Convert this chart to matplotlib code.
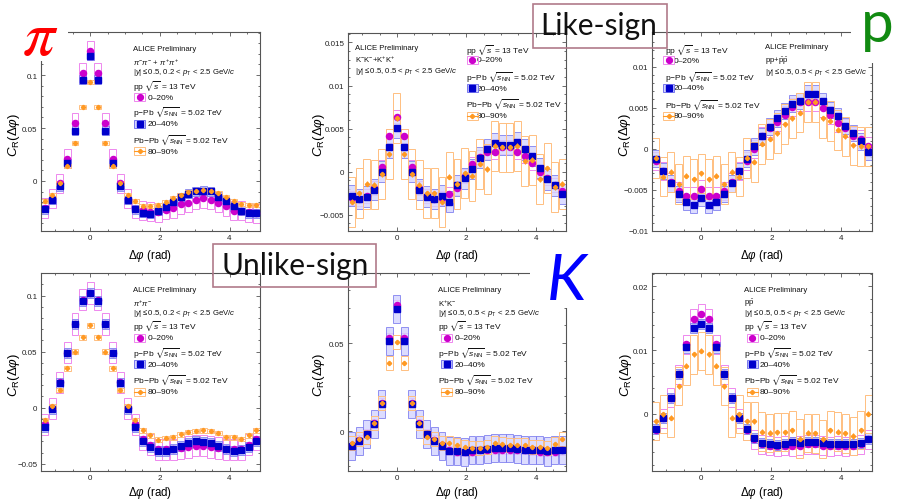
import numpy as np
import matplotlib
matplotlib.use("Agg")
import matplotlib.pyplot as plt
from matplotlib.patches import Rectangle
from matplotlib.ticker import MultipleLocator, FuncFormatter

plt.rcParams['font.family'] = ['Liberation Sans', 'DejaVu Sans']
plt.rcParams['mathtext.fontset'] = 'custom'
plt.rcParams['mathtext.rm'] = 'Liberation Sans'
plt.rcParams['mathtext.it'] = 'Liberation Sans:italic'
plt.rcParams['mathtext.bf'] = 'Liberation Sans:bold'
plt.rcParams['mathtext.fallback'] = 'stixsans'

# ---------------- data ----------------
dphi = [-1.300, -1.083, -0.867, -0.650, -0.433, -0.217, 0.000, 0.217, 0.433, 0.650,
        0.867, 1.083, 1.300, 1.517, 1.733, 1.950, 2.167, 2.383, 2.600, 2.817,
        3.033, 3.250, 3.467, 3.683, 3.900, 4.117, 4.333, 4.550, 4.767]
bin_width = 0.2167

# pi like-sign
pi_ls_pp = [-0.0255, -0.0167, -0.002, 0.021, 0.0547, 0.102, 0.123, 0.102, 0.0547, 0.021, -0.002, -0.0167, -0.026,
            -0.0277, -0.029, -0.0296, -0.027, -0.0255, -0.022, -0.0204, -0.0176, -0.0164, -0.0176, -0.0204, -0.024,
            -0.028, -0.028, -0.0296, -0.0305]
pi_ls_ppb = [-0.0267, -0.018, -0.005, 0.0167, 0.0475, 0.0956, 0.118, 0.0956, 0.0475, 0.0167, -0.005, -0.018, -0.0267,
             -0.030, -0.031, -0.028, -0.025, -0.020, -0.0154, -0.012, -0.0097, -0.0091, -0.0097, -0.0148, -0.019,
             -0.024, -0.028, -0.0305, -0.0305]
pi_ls_pbpb = [-0.019, -0.0129, -0.002, 0.0138, 0.036, 0.0698, 0.0934, 0.0698, 0.036, 0.0138, -0.002, -0.0129, -0.019,
              -0.0236, -0.0236, -0.023, -0.0198, -0.0157, -0.0129, -0.0104, -0.0091, -0.0085, -0.0091, -0.0113, -0.0154,
              -0.0192, -0.0214, -0.023, -0.023]
pi_ls_sys = [0.009, 0.004, 0.002]
pi_ls_stat = 0.0015

# K like-sign
k_ls_pp = [-0.0031, -0.0032, -0.0028, -0.0019, 0.0005, 0.0041, 0.0064, 0.0041, 0.0005, -0.0019, -0.0028, -0.0032, -0.0031,
           -0.0026, -0.0019, -0.0005, 0.0009, 0.0017, 0.0023, 0.0023, 0.0029, 0.0029, 0.0023, 0.0018, 0.0010,
           -0.0001, -0.0007, -0.0016, -0.0022]
k_ls_ppb = [-0.0028, -0.0032, -0.0029, -0.0021, 0.0, 0.0028, 0.0051, 0.0028, 0.0, -0.0021, -0.0029, -0.0032, -0.0028,
            -0.0035, -0.0016, -0.0008, 0.0003, 0.0016, 0.0026, 0.0033, 0.0031, 0.0031, 0.0034, 0.0026, 0.0018,
            0.0004, -0.0009, -0.0016, -0.0026]
k_ls_pbpb = [-0.0035, -0.0025, -0.0014, -0.0015, -0.0003, 0.0020, 0.0062, 0.0020, -0.0003, -0.0015, -0.0025, -0.0025, -0.0035,
             -0.0006, -0.0014, -0.0002, -0.0005, 0.0009, 0.0003, 0.0030, 0.0028, 0.0028, 0.0030, 0.0012, 0.0014,
             -0.0009, 0.0004, -0.0018, -0.0014]
k_ls_sys = [0.0008, 0.0012, 0.0029]
k_ls_stat = 0.0003

# p like-sign
p_ls_pp = [-0.0015, -0.0027, -0.0041, -0.0051, -0.0057, -0.0057, -0.0049, -0.0057, -0.0057, -0.0051, -0.0041, -0.0027, -0.0015,
           0.0000, 0.0015, 0.0025, 0.0033, 0.0041, 0.0051, 0.0057, 0.0057, 0.0057, 0.0050, 0.0041, 0.0031,
           0.0025, 0.0015, 0.0012, 0.0003]
p_ls_ppb = [-0.0012, -0.0027, -0.0042, -0.0055, -0.0065, -0.0068, -0.0060, -0.0068, -0.0065, -0.0055, -0.0042, -0.0027, -0.0012,
            0.0003, 0.0015, 0.0027, 0.0037, 0.0046, 0.0055, 0.0058, 0.0067, 0.0067, 0.0058, 0.0047, 0.0040,
            0.0028, 0.0019, 0.0009, -0.0004]
p_ls_pbpb = [-0.0011, -0.0034, -0.0028, -0.0043, -0.0033, -0.0037, -0.0030, -0.0037, -0.0033, -0.0043, -0.0028, -0.0034, -0.0011,
             -0.0016, 0.0006, 0.0012, 0.0019, 0.0030, 0.0037, 0.0044, 0.0057, 0.0057, 0.0037, 0.0034, 0.0023,
             0.0015, 0.0004, 0.0003, 0.0003]
p_ls_sys = [0.0011, 0.0010, 0.0024]
p_ls_stat = 0.0003

# pi unlike-sign
pi_us_pp = [-0.015, -0.0005, 0.0225, 0.049, 0.0747, 0.0965, 0.1024, 0.0965, 0.0747, 0.049, 0.0225, -0.0005, -0.015,
            -0.028, -0.033, -0.037, -0.037, -0.037, -0.036, -0.035, -0.034, -0.034, -0.035, -0.036, -0.037,
            -0.037, -0.037, -0.033, -0.028]
pi_us_ppb = [-0.0173, -0.001, 0.0223, 0.0488, 0.0747, 0.0955, 0.1024, 0.0955, 0.0747, 0.0488, 0.0223, -0.001, -0.0176,
             -0.0295, -0.0354, -0.0384, -0.0387, -0.0366, -0.0339, -0.0318, -0.0301, -0.0304, -0.0318, -0.0339, -0.0366,
             -0.0384, -0.0381, -0.0354, -0.0295]
pi_us_pbpb = [-0.0113, 0.0012, 0.016, 0.0351, 0.050, 0.0628, 0.0735, 0.0628, 0.050, 0.0351, 0.016, 0.0012, -0.0113,
              -0.0202, -0.0247, -0.0286, -0.0271, -0.0265, -0.0238, -0.0217, -0.0208, -0.0202, -0.0208, -0.0226, -0.0265,
              -0.0265, -0.028, -0.0247, -0.0202]
pi_us_sys = [0.0095, 0.0045, 0.002]
pi_us_stat = 0.0015

# K unlike-sign
k_us_pp = [-0.0081, -0.005, -0.0015, 0.0044, 0.016, 0.053, 0.0718, 0.053, 0.016, 0.0044, -0.0015, -0.005, -0.0081,
           -0.011, -0.0117, -0.0119, -0.0117, -0.0110, -0.0108, -0.0105, -0.0107, -0.0107, -0.0105, -0.0108, -0.0110,
           -0.0117, -0.0119, -0.0117, -0.011]
k_us_ppb = [-0.0085, -0.0055, -0.0019, 0.0042, 0.0155, 0.0513, 0.0695, 0.0513, 0.0155, 0.0042, -0.0019, -0.0055, -0.0085,
            -0.0112, -0.0114, -0.0119, -0.011, -0.0108, -0.0102, -0.0098, -0.0097, -0.0097, -0.0100, -0.0108, -0.0106,
            -0.0106, -0.0116, -0.011, -0.0108]
k_us_pbpb = [-0.0066, -0.0044, -0.0034, 0.0045, 0.016, 0.0386, 0.0506, 0.0386, 0.016, 0.0045, -0.0034, -0.0044, -0.0066,
             -0.0066, -0.0078, -0.0091, -0.0095, -0.0097, -0.0093, -0.0070, -0.0076, -0.0078, -0.0081, -0.0081, -0.0089,
             -0.0091, -0.0095, -0.0074, -0.0045]
k_us_sys = [0.0025, 0.008, 0.004]
k_us_stat = 0.0012

# p unlike-sign
p_us_pp = [-0.0026, -0.0007, 0.0025, 0.0062, 0.0109, 0.0149, 0.0157, 0.0149, 0.0109, 0.0062, 0.0025, -0.0007, -0.0026,
           -0.0040, -0.0048, -0.0050, -0.0051, -0.0050, -0.0051, -0.0050, -0.0048, -0.0048, -0.0050, -0.0051, -0.0050,
           -0.0051, -0.0050, -0.0048, -0.0040]
p_us_ppb = [-0.0024, -0.0007, 0.0025, 0.0062, 0.0104, 0.0135, 0.0141, 0.0135, 0.0104, 0.0062, 0.0025, -0.0007, -0.0024,
            -0.0038, -0.0046, -0.0047, -0.0049, -0.0048, -0.0045, -0.0046, -0.0044, -0.0044, -0.0046, -0.0047, -0.0047,
            -0.0048, -0.0047, -0.0046, -0.0039]
p_us_pbpb = [-0.0012, -0.0001, -0.0006, 0.0043, 0.0075, 0.0093, 0.0099, 0.0093, 0.0075, 0.0043, -0.0006, -0.0001, -0.0012,
             -0.0012, -0.0028, -0.0030, -0.0029, -0.0029, -0.0026, -0.0039, -0.0030, -0.0031, -0.0040, -0.0026, -0.0028,
             -0.0031, -0.0035, -0.0026, 0.0000]
p_us_sys = [0.0015, 0.0008, 0.003]
p_us_stat = 0.0004

leg_pp = r'pp $\sqrt{s}$ = 13 TeV'
leg_ppb = r'p$-$Pb $\sqrt{s_{\rm NN}}$ = 5.02 TeV'
leg_pbpb = r'Pb$-$Pb $\sqrt{s_{\rm NN}}$ = 5.02 TeV'
cent_labels = ['0\u201320%', '20\u201340%', '80\u201390%']
cut_pi = r'$|y| \leq 0.5$, 0.2 < $p_{\rm T}$ < 2.5 GeV/$c$'
cut_kp = r'$|y| \leq 0.5$, 0.5 < $p_{\rm T}$ < 2.5 GeV/$c$'

# ---------------- figure ----------------
W, H = 897, 502
fig = plt.figure(figsize=(W / 100, H / 100), dpi=100)
fig.patch.set_facecolor('white')

C_PP, C_PPB, C_PBPB = '#cc00cc', '#0000cc', '#ff9922'
E_PP, E_PPB, F_PPB, E_PBPB = '#ee88ee', '#7878ee', '#d4d4ff', '#ffbf80'
FRAME = '#555555'


def fmt(v, pos):
    v = round(v, 6)
    if abs(v) < 1e-9:
        return '0'
    return ('%g' % v).replace('-', '\u2212')


layoutA = dict(info=(0.42, [0.915, 0.851, 0.801]), head=(0.42, [0.734, 0.600, 0.462]),
               mark=(0.452, [0.672, 0.538, 0.400]), text=0.487)
layoutB = dict(info=(0.032, [0.929, 0.869, 0.813]), head=(0.541, [0.919, 0.783, 0.646]),
               mark=(0.569, [0.864, 0.722, 0.581]), text=0.592)
layoutC = dict(info=(0.514, [0.925, 0.859, 0.799]), head=(0.059, [0.915, 0.779, 0.638]),
               mark=(0.077, [0.859, 0.719, 0.578]), text=0.100)

panels = [
    dict(rect=(41, 33, 260, 232), ylim=(-0.0472, 0.1406), major=0.05, minor=0.01,
         data=(pi_ls_pp, pi_ls_ppb, pi_ls_pbpb), sys=pi_ls_sys, stat=pi_ls_stat,
         species=r'$\pi^{-}\pi^{-}$ + $\pi^{+}\pi^{+}$', cut=cut_pi, lay=layoutA, ylx=-0.123, xly=-0.121),
    dict(rect=(348, 34, 566, 232), ylim=(-0.0069, 0.0161), major=0.005, minor=0.001,
         data=(k_ls_pp, k_ls_ppb, k_ls_pbpb), sys=k_ls_sys, stat=k_ls_stat,
         species=r'K$^{-}$K$^{-}$+K$^{+}$K$^{+}$', cut=cut_kp, lay=layoutB, ylx=-0.133, xly=-0.121),
    dict(rect=(652, 33, 872, 232), ylim=(-0.0100, 0.0142), major=0.005, minor=0.001,
         data=(p_ls_pp, p_ls_ppb, p_ls_pbpb), sys=p_ls_sys, stat=p_ls_stat,
         species=r'pp+$\bar{\rm p}\bar{\rm p}$', cut=cut_kp, lay=layoutC, ylx=-0.123, xly=-0.121),
    dict(rect=(41, 274, 260, 472), ylim=(-0.0565, 0.1202), major=0.05, minor=0.01,
         data=(pi_us_pp, pi_us_ppb, pi_us_pbpb), sys=pi_us_sys, stat=pi_us_stat,
         species=r'$\pi^{+}\pi^{-}$', cut=cut_pi, lay=layoutA, ylx=-0.123, xly=-0.108),
    dict(rect=(348, 274, 566, 472), ylim=(-0.0227, 0.0898), major=0.05, minor=0.01,
         data=(k_us_pp, k_us_ppb, k_us_pbpb), sys=k_us_sys, stat=k_us_stat,
         species=r'K$^{+}$K$^{-}$', cut=cut_kp, lay=dict(layoutA, info=(0.413, layoutA['info'][1]),
                                                       head=(0.413, layoutA['head'][1]),
                                                       mark=(0.452, layoutA['mark'][1]), text=0.49),
         ylx=-0.133, xly=-0.108),
    dict(rect=(652, 274, 872, 472), ylim=(-0.0090, 0.0221), major=0.01, minor=0.002,
         data=(p_us_pp, p_us_ppb, p_us_pbpb), sys=p_us_sys, stat=p_us_stat,
         species=r'p$\bar{\rm p}$', cut=cut_kp, lay=dict(layoutA, info=(0.418, layoutA['info'][1]),
                                                        head=(0.418, layoutA['head'][1]),
                                                        mark=(0.455, layoutA['mark'][1]), text=0.49),
         ylx=-0.118, xly=-0.108),
]

TXT = 5.6
for P in panels:
    l, t, r, b = P['rect']
    ax = fig.add_axes([l / W, 1 - b / H, (r - l) / W, (b - t) / H])
    axw, axh = r - l, b - t
    ax.set_xlim(-1.408, 4.875)
    ax.set_ylim(*P['ylim'])
    for s in ax.spines.values():
        s.set_color(FRAME)
        s.set_linewidth(0.8)
    ax.xaxis.set_major_locator(MultipleLocator(2))
    ax.xaxis.set_minor_locator(MultipleLocator(0.5))
    ax.yaxis.set_major_locator(MultipleLocator(P['major']))
    ax.yaxis.set_minor_locator(MultipleLocator(P['minor']))
    ax.yaxis.set_major_formatter(FuncFormatter(fmt))
    ax.xaxis.set_major_formatter(FuncFormatter(fmt))
    ax.tick_params(which='both', direction='in', top=True, right=True, color=FRAME,
                   labelsize=5.8, labelcolor='#222222', width=0.6)
    ax.tick_params(which='major', length=3.2, pad=2.5)
    ax.tick_params(which='minor', length=1.6)

    pp, ppb, pbpb = P['data']
    s_pp, s_ppb, s_pbpb = P['sys']
    bw = bin_width * 0.92
    for x, y in zip(dphi, pp):
        ax.add_patch(Rectangle((x - bw / 2, y - s_pp), bw, 2 * s_pp, fill=False, ec=E_PP, lw=0.7, zorder=2))
    for x, y in zip(dphi, ppb):
        ax.add_patch(Rectangle((x - bw / 2, y - s_ppb), bw, 2 * s_ppb, fc=F_PPB, ec=E_PPB, lw=0.7,
                               alpha=0.8, zorder=2.1))
    for x, y in zip(dphi, pbpb):
        ax.add_patch(Rectangle((x - bw / 2, y - s_pbpb), bw, 2 * s_pbpb, fill=False, ec=E_PBPB, lw=0.7, zorder=2.2))
    ax.plot(dphi, pp, 'o', ms=4.4, color=C_PP, mec=C_PP, zorder=4)
    ax.plot(dphi, ppb, 's', ms=4.6, color=C_PPB, mec=C_PPB, zorder=5)
    ax.errorbar(dphi, pbpb, yerr=P['stat'], fmt='P', ms=2.8, color=C_PBPB, mec=C_PBPB,
                elinewidth=0.8, capsize=0, zorder=6)

    # axis titles
    ax.text(P['ylx'], 0.49, r'$C_{\rm R}(\Delta\varphi)$', transform=ax.transAxes, rotation=90,
            ha='center', va='center', fontsize=9.5)
    ax.text(0.5, P['xly'], r'$\Delta\varphi$ (rad)', transform=ax.transAxes, ha='center', va='center',
            fontsize=8.3)

    # info text
    L = P['lay']
    ix, iys = L['info']
    for s, yy in zip(['ALICE Preliminary', P['species'], P['cut']], iys):
        ax.text(ix, yy, s, transform=ax.transAxes, fontsize=TXT, ha='left', va='center', color='#111111')
    hx, hys = L['head']
    for s, yy in zip([leg_pp, leg_ppb, leg_pbpb], hys):
        ax.text(hx, yy, s, transform=ax.transAxes, fontsize=TXT + 0.4, ha='left', va='center', color='#111111')
    mx, mys = L['mark']
    lbw, lbh = 11 / axw, 8 / axh
    for i, (lab, yy) in enumerate(zip(cent_labels, mys)):
        ax.text(L['text'], yy, lab, transform=ax.transAxes, fontsize=TXT + 0.4, ha='left', va='center',
                color='#111111')
        if i == 0:
            ax.add_patch(Rectangle((mx - lbw / 2, yy - lbh / 2), lbw, lbh, transform=ax.transAxes,
                                   fill=False, ec=E_PP, lw=0.7, clip_on=False, zorder=3))
            ax.plot([mx], [yy], 'o', ms=4.2, color=C_PP, transform=ax.transAxes, clip_on=False, zorder=4)
        elif i == 1:
            ax.add_patch(Rectangle((mx - lbw / 2, yy - lbh / 2), lbw, lbh, transform=ax.transAxes,
                                   fc=F_PPB, ec=E_PPB, lw=0.7, clip_on=False, zorder=3))
            ax.plot([mx], [yy], 's', ms=4.4, color=C_PPB, transform=ax.transAxes, clip_on=False, zorder=4)
        else:
            ax.add_patch(Rectangle((mx - lbw / 2, yy - lbh / 2), lbw, lbh, transform=ax.transAxes,
                                   fill=False, ec=E_PBPB, lw=0.7, clip_on=False, zorder=3))
            ax.plot([mx - lbw / 2, mx + lbw / 2], [yy, yy], '-', color=C_PBPB, lw=0.8,
                    transform=ax.transAxes, clip_on=False, zorder=4)
            ax.plot([mx], [yy], 'P', ms=2.8, color=C_PBPB, transform=ax.transAxes, clip_on=False, zorder=4)


def fig_rect(l, t, r, b, **kw):
    fig.add_artist(Rectangle((l / W, 1 - b / H), (r - l) / W, (b - t) / H, transform=fig.transFigure, **kw))


# white backgrounds of the big particle letters
fig_rect(0, 0, 68, 62, fc='white', ec='none', zorder=5)
fig_rect(851, 0, 897, 64, fc='white', ec='none', zorder=5)
fig_rect(530, 246, 600, 309, fc='white', ec='none', zorder=5)

fig.text(40 / W, 1 - 55 / H, r'$\pi$', fontsize=46, color='#ff0000', math_fontfamily='stix',
         ha='center', va='baseline', zorder=6)
fig.text(861 / W, 1 - 42 / H, 'p', fontsize=42, color='#118a11', family='Lato',
         ha='left', va='baseline', zorder=6)
fig.text(567 / W, 1 - 300 / H, 'K', fontsize=46, color='#0000ff', family='Lato', style='italic',
         ha='center', va='baseline', zorder=6)

# like / unlike sign boxes
fig_rect(533, 5, 667, 49, fill=False, ec='#b07a8a', lw=1.2, zorder=6)
fig.text(599 / W, 1 - 35 / H, 'Like-sign', fontsize=21.5, family='Lato', ha='center', va='baseline',
         color='#111111', zorder=7)
fig_rect(213, 245, 376, 288, fill=False, ec='#b07a8a', lw=1.2, zorder=6)
fig.text(295 / W, 1 - 275 / H, 'Unlike-sign', fontsize=21.5, family='Lato', ha='center', va='baseline',
         color='#111111', zorder=7)

fig.savefig('out.png', dpi=100)
